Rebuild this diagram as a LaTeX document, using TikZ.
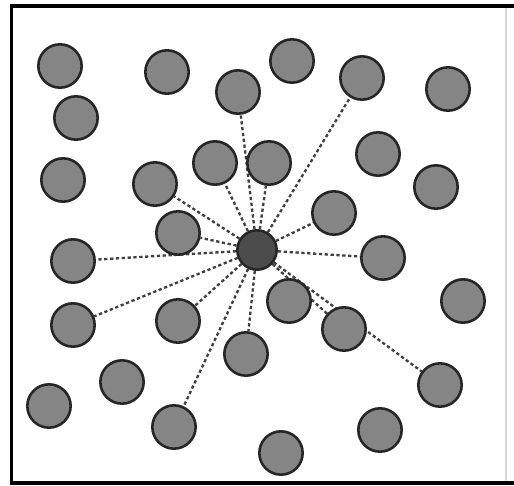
\documentclass[tikz,border=0pt]{standalone}
\usetikzlibrary{backgrounds}
\begin{document}
\begin{tikzpicture}[x=0.03cm,y=-0.03cm,
  peer/.style={circle,draw=black!85,fill=black!48,line width=2.2pt,minimum size=1.3cm,inner sep=0pt},
  hubnode/.style={peer,fill=black!70,minimum size=1.18cm},
  link/.style={draw=black!75,line width=2pt,dash pattern=on 2.8pt off 2.2pt}]
\useasboundingbox (0,0) rectangle (514,486);
% frame
\draw[line width=3.4pt] (514,6) -- (11.5,6) -- (11.5,483) -- (514,483);
\draw[black!15,line width=1.2pt] (506,8) -- (506,481);
% hub and peers
\node[hubnode] (hub) at (257,250) {};
\foreach \name/\x/\y in {p1/60/66,p2/167/72,p3/238/92,p4/292/61,p5/362/78,p6/448/89,
  p7/76/118,p8/378/154,p9/215/163,p10/269/163,p11/63/180,p12/155/184,p13/436/187,
  p14/334/213,p15/178/233,p16/73/261,p17/383/258,p18/289/301,p19/463/301,p20/73/325,
  p21/178/321,p22/344/329,p23/246/354,p24/122/382,p25/440/385,p26/49/406,p27/174/427,
  p28/380/430,p29/281/453}
  \node[peer] (\name) at (\x,\y) {};
\begin{scope}[on background layer]
\foreach \n in {p3,p5,p9,p10,p12,p14,p15,p16,p17,p20,p21,p22,p23,p25,p27}
  \draw[link] (hub) -- (\n);
\end{scope}
\end{tikzpicture}
\end{document}
